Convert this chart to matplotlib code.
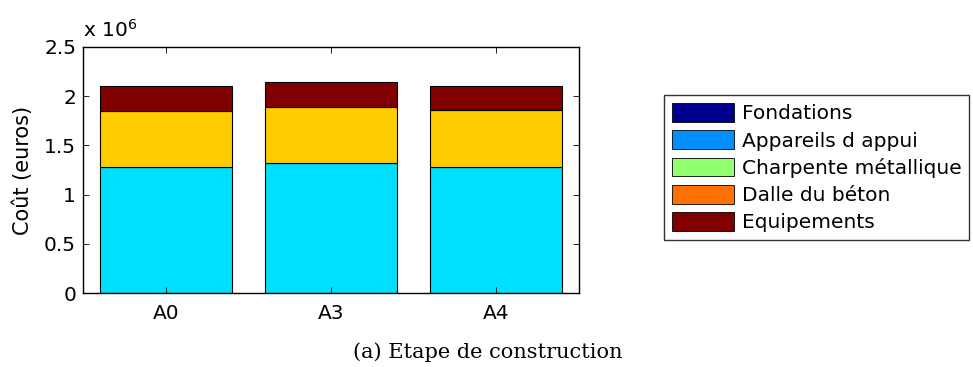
import numpy as np
import matplotlib.pyplot as plt
from matplotlib.patches import Patch

# data (euros)
stages = ['A0', 'A3', 'A4']
categories = ['Fondations', 'Appareils d appui', 'Charpente métallique',
              'Dalle du béton', 'Equipements']
fondations = [0, 0, 0]
appareils = [0, 0, 0]
charpente = [1.277e6, 1.318e6, 1.280e6]
dalle = [0.573e6, 0.575e6, 0.577e6]
equipements = [0.250e6, 0.254e6, 0.247e6]

series = [fondations, appareils, charpente, dalle, equipements]
bar_colors = ['#000090', '#0090ff', '#00dfff', '#ffcc00', '#800000']
legend_colors = ['#000090', '#0090ff', '#90ff70', '#ff7000', '#800000']

plt.rcParams['font.family'] = ['DejaVu Sans']

fig = plt.figure(figsize=(9.73, 3.67), dpi=100)
ax = fig.add_axes([0.0853, 0.2016, 0.5098, 0.6704])

x = np.arange(1, len(stages) + 1)
bottom = np.zeros(len(stages))
for vals, col in zip(series, bar_colors):
    vals = np.array(vals, dtype=float)
    ax.bar(x, vals, width=0.8, bottom=bottom, color=col,
           edgecolor='black', linewidth=0.8)
    bottom += vals

ax.set_xlim(0.5, 3.5)
ax.set_ylim(0, 2.5e6)
ax.set_xticks(x)
ax.set_xticklabels(stages)
yt = np.arange(0, 2.51e6, 0.5e6)
ax.set_yticks(yt)
ax.set_yticklabels(['0', '0.5', '1', '1.5', '2', '2.5'])
ax.tick_params(direction='in', top=True, right=True, labelsize=14.5,
               length=4, width=0.6)
ax.tick_params(axis='y', pad=5)
ax.tick_params(axis='x', pad=8)
for s in ax.spines.values():
    s.set_linewidth(1.0)
ax.set_ylabel('Coût (euros)', fontsize=15)
ax.yaxis.set_label_coords(-0.10, 0.5)
ax.text(0.0, 1.025, r'x 10$^6$', transform=ax.transAxes, fontsize=14.5,
        ha='left', va='bottom')

handles = [Patch(facecolor=c, edgecolor='black', linewidth=0.6) for c in legend_colors]
fig.legend(handles, categories, loc='upper left',
           bbox_to_anchor=(664 / 973, 1 - 95 / 367), fontsize=14.5,
           frameon=True, fancybox=False, edgecolor='black',
           handlelength=3.1, handleheight=1.05, handletextpad=0.35,
           labelspacing=0.35, borderpad=0.4, borderaxespad=0)

fig.text(488 / 973, 1 - 352 / 367, '(a) Etape de construction',
         family='DejaVu Serif', fontsize=15, ha='center', va='center')

fig.savefig('out.png', dpi=100)
